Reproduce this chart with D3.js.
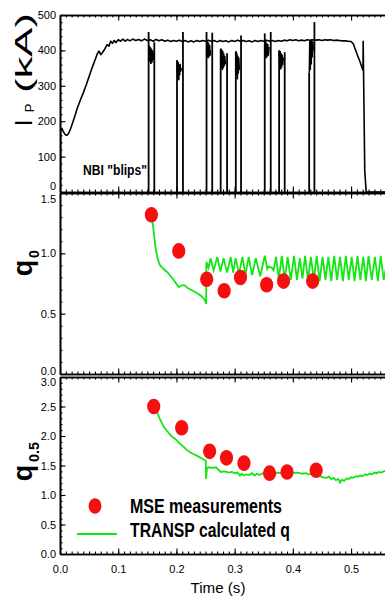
<!DOCTYPE html>
<html><head><meta charset="utf-8">
<script src="https://cdn.jsdelivr.net/npm/d3@7"></script>
<style>body{margin:0;background:#fff}svg{display:block}</style>
</head><body>
<svg id="c" width="385" height="599"></svg>
<script>
// ---------------- DATA ----------------
const timeTicks = [0, 0.1, 0.2, 0.3, 0.4, 0.5];
const timeTickLabels = ["0.0", "0.1", "0.2", "0.3", "0.4", "0.5"];
const ipTicks = [0, 100, 200, 300, 400, 500];
const q0Ticks = [0, 0.5, 1.0, 1.5];
const q05Ticks = [0, 0.5, 1.0, 1.5, 2.0, 2.5, 3.0];

// Plasma current trace (s, kA)
const ipTime = [0.000,0.0008,0.0010,0.003,0.006,0.009,0.012,0.015,0.018,0.021,0.025,0.030,0.035,0.040,0.045,0.050,0.055,0.060,0.064,0.067,0.070,0.073,0.077,0.081,0.084,0.087,0.090,0.093,0.096,0.100,0.104,0.108,0.112,0.116,0.120,0.125,0.130,0.135,0.140,0.145,0.150,0.155,0.160,0.165,0.170,0.175,0.180,0.185,0.190,0.195,0.200,0.205,0.210,0.215,0.220,0.225,0.230,0.235,0.240,0.245,0.250,0.255,0.260,0.265,0.270,0.275,0.280,0.285,0.290,0.295,0.300,0.305,0.310,0.315,0.320,0.325,0.330,0.335,0.340,0.345,0.350,0.355,0.360,0.365,0.370,0.375,0.380,0.385,0.390,0.395,0.400,0.405,0.410,0.415,0.420,0.425,0.430,0.435,0.440,0.445,0.450,0.455,0.460,0.465,0.470,0.475,0.480,0.485,0.490,0.495,0.500,0.504,0.508,0.512,0.516,0.519,0.5205,0.5208,0.5235,0.5260,0.5600];
const ipValue = [0,0,172,180,170,162,160,166,178,192,212,238,260,280,302,326,350,372,390,398,388,394,404,416,412,426,420,428,422,430,426,432,426,431,427,432,428,431,427,432,428,430,426,431,427,430,426,429,425,428,426,429,425,428,424,427,424,428,425,428,426,429,425,428,424,428,425,427,424,428,425,429,426,428,425,427,424,428,425,428,426,429,426,428,425,428,426,429,427,430,428,430,427,429,427,430,428,430,429,430,428,430,429,430,428,429,428,427,427,426,425,418,400,382,365,350,344,426,60,0,0];

// NBI blips: start/end time, top of the two vertical drops, noisy segment between
const blipStart = [0.1522, 0.2010, 0.2517, 0.2760, 0.3020, 0.3517, 0.3764, 0.4280];
const blipEnd   = [0.1620, 0.2112, 0.2615, 0.2870, 0.3110, 0.3620, 0.3860, 0.4370];
const blipTop1  = [452, 372, 452, 405, 395, 448, 400, 338];
const blipTop2  = [423, 452, 450, 392, 442, 452, 395, 480];
const blipNoise = [
  [[0.1526,415],[0.154,368],[0.155,410],[0.156,362],[0.157,405],[0.158,365],[0.159,400],[0.1605,372],[0.1612,392]],
  [[0.2012,372],[0.2022,322],[0.2030,368],[0.2040,316],[0.2048,360],[0.2056,330],[0.2064,362],[0.2072,340],[0.2085,350]],
  [[0.2520,430],[0.2530,380],[0.2538,425],[0.2546,378],[0.2554,420],[0.2562,382],[0.2570,415],[0.2578,385],[0.2586,400]],
  [[0.2763,405],[0.2772,350],[0.2780,402],[0.2788,345],[0.2796,398],[0.2804,350],[0.2812,392],[0.2820,355],[0.2830,385],[0.2840,360]],
  [[0.3023,398],[0.3031,330],[0.3039,392],[0.3047,318],[0.3055,385],[0.3063,335],[0.3071,380],[0.3080,345]],
  [[0.3520,428],[0.3528,380],[0.3536,425],[0.3544,378],[0.3552,420],[0.3560,382],[0.3568,418],[0.3578,385],[0.3590,410]],
  [[0.3767,400],[0.3775,350],[0.3783,398],[0.3791,346],[0.3799,392],[0.3807,352],[0.3815,388],[0.3825,358],[0.3835,380]],
  [[0.4283,338],[0.4291,430],[0.4299,345],[0.4307,428],[0.4315,360],[0.4323,432],[0.4331,380],[0.4340,425],[0.4350,400]]
];

// MSE measurements
const mseTime0 = [0.157, 0.204, 0.252, 0.282, 0.310, 0.355, 0.384, 0.434];
const mseQ0    = [1.32, 1.02, 0.785, 0.69, 0.80, 0.74, 0.77, 0.77];
const mseTime05 = [0.161, 0.209, 0.257, 0.286, 0.316, 0.360, 0.390, 0.440];
const mseQ05    = [2.50, 2.14, 1.74, 1.63, 1.54, 1.37, 1.39, 1.42];

// TRANSP q0
const transpTime0 = [0.157,0.160,0.164,0.168,0.172,0.178,0.185,0.192,0.198,0.204,0.209,0.214,0.220,0.228,0.236,0.243,0.248,0.2510,0.2515,0.2550,0.2586,0.2640,0.2702,0.2755,0.2810,0.2870,0.2931,0.2975,0.3017,0.3075,0.3133,0.3185,0.3241,0.3300,0.3362,0.3440,0.3517,0.3560,0.3585,0.3640,0.3670,0.3710,0.3760,0.3810,0.3860,0.3910,0.3965,0.4020,0.4070,0.4120,0.4165,0.4210,0.4260,0.4310,0.4360,0.4410,0.4460,0.4510,0.4560,0.4610,0.4660,0.4710,0.4760,0.4810,0.4860,0.4910,0.4960,0.5010,0.5060,0.5110,0.5160,0.5210,0.5255,0.5300,0.5355,0.5410,0.5460,0.5510,0.5560,0.5600];
const transpQ0 = [1.32,1.22,1.05,0.95,0.90,0.87,0.84,0.80,0.76,0.72,0.735,0.735,0.71,0.69,0.67,0.645,0.62,0.58,0.93,0.88,0.96,0.86,0.97,0.85,0.96,0.84,0.97,0.84,0.96,0.83,0.97,0.82,0.97,0.82,0.96,0.81,0.98,0.87,0.89,0.88,0.86,0.97,0.79,0.98,0.78,0.97,0.78,0.98,0.78,0.96,0.79,0.98,0.78,0.97,0.78,0.98,0.77,0.97,0.78,0.97,0.77,0.98,0.78,0.97,0.77,0.98,0.78,0.97,0.77,0.98,0.78,0.97,0.77,0.98,0.78,0.97,0.77,0.98,0.78,0.88];

// TRANSP q0.5
const transpTime05 = [0.161,0.166,0.172,0.178,0.186,0.192,0.198,0.205,0.212,0.218,0.224,0.230,0.238,0.244,0.2505,0.2508,0.2525,0.256,0.262,0.268,0.271,0.276,0.283,0.290,0.295,0.300,0.305,0.309,0.312,0.316,0.320,0.325,0.330,0.334,0.338,0.343,0.348,0.352,0.357,0.362,0.368,0.374,0.380,0.386,0.392,0.398,0.404,0.410,0.416,0.422,0.428,0.434,0.440,0.446,0.452,0.458,0.462,0.466,0.470,0.474,0.478,0.481,0.484,0.488,0.492,0.496,0.500,0.504,0.508,0.512,0.516,0.520,0.524,0.528,0.532,0.536,0.540,0.544,0.548,0.552,0.556,0.560];
const transpQ05 = [2.50,2.42,2.28,2.16,2.06,1.99,1.95,1.88,1.82,1.76,1.72,1.69,1.65,1.62,1.58,1.27,1.46,1.47,1.46,1.47,1.44,1.39,1.40,1.38,1.39,1.37,1.38,1.33,1.36,1.33,1.35,1.34,1.37,1.33,1.36,1.34,1.37,1.35,1.36,1.37,1.36,1.38,1.37,1.39,1.38,1.39,1.37,1.38,1.36,1.37,1.35,1.36,1.34,1.32,1.30,1.29,1.31,1.27,1.29,1.25,1.27,1.21,1.26,1.24,1.28,1.27,1.30,1.29,1.32,1.31,1.33,1.32,1.35,1.34,1.36,1.35,1.38,1.37,1.39,1.38,1.40,1.41];

const legendLabels = ["MSE measurements", "TRANSP calculated q"];

// ---------------- DRAW ----------------
const RED = "#f50f0f", GREEN = "#14e614";
const FONT = "'Liberation Sans', Arial, Helvetica, sans-serif";
const svg = d3.select("#c");
const x = d3.scaleLinear().domain([0, 0.56]).range([60, 386]);
const xMinor = d3.range(0, 0.565, 0.01);

const panels = [
  {y: d3.scaleLinear().domain([0, 500]).range([192, 15]), ticks: ipTicks, minor: d3.range(0, 501, 20), fmt: d => String(d), lowShift: -6, highShift: 0},
  {y: d3.scaleLinear().domain([0, 1.5]).range([374, 193]), ticks: q0Ticks, minor: d3.range(0, 1.51, 0.1), fmt: d3.format(".1f"), lowShift: -3, highShift: 6},
  {y: d3.scaleLinear().domain([0, 3]).range([554, 377]), ticks: q05Ticks, minor: d3.range(0, 3.01, 0.1), fmt: d3.format(".1f"), lowShift: 0, highShift: 5}
];

function styleAxis(g, sw) {
  g.selectAll("path.domain").attr("stroke", "#000").attr("stroke-width", sw || 1.6);
  g.selectAll(".tick line").attr("stroke", "#000").attr("stroke-width", 1.1);
  g.selectAll("text").attr("font-family", FONT).attr("font-size", 11).attr("fill", "#000");
  g.attr("font-family", null);
}

panels.forEach((p, i) => {
  const [y0, y1] = p.y.range();
  svg.append("clipPath").attr("id", "clip" + i).append("rect")
    .attr("x", 60).attr("y", y1 - 20).attr("width", 330).attr("height", y0 - y1 + 20);
  svg.append("g").attr("transform", `translate(0,${y1})`)
    .call(d3.axisBottom(x).tickValues(xMinor).tickSize(2.5).tickSizeOuter(0).tickFormat(""))
    .call(g => styleAxis(g));
  svg.append("g").attr("transform", `translate(0,${y1})`)
    .call(d3.axisBottom(x).tickValues(timeTicks).tickSize(5.5).tickSizeOuter(0).tickFormat(""))
    .call(g => styleAxis(g));
  svg.append("g").attr("transform", `translate(0,${y0})`)
    .call(d3.axisTop(x).tickValues(xMinor).tickSize(2.5).tickSizeOuter(0).tickFormat(""))
    .call(g => styleAxis(g));
  svg.append("g").attr("transform", `translate(0,${y0})`)
    .call(d3.axisTop(x).tickValues(timeTicks).tickSize(5.5).tickSizeOuter(0).tickFormat(""))
    .call(g => styleAxis(g));
  svg.append("g").attr("transform", `translate(60,0)`)
    .call(d3.axisRight(p.y).tickValues(p.minor).tickSize(2.5).tickSizeOuter(0).tickFormat(""))
    .call(g => styleAxis(g));
  svg.append("g").attr("transform", `translate(60,0)`)
    .call(d3.axisRight(p.y).tickValues(p.ticks).tickSize(5.5).tickSizeOuter(0).tickFormat(""))
    .call(g => styleAxis(g));
  const lo = p.ticks[0], hi = p.ticks[p.ticks.length - 1];
  svg.append("g").attr("transform", `translate(60,0)`)
    .call(d3.axisLeft(p.y).tickValues(p.ticks).tickSize(0).tickPadding(4).tickFormat(p.fmt))
    .call(g => {
      styleAxis(g); g.select("path.domain").remove();
      g.selectAll(".tick text").attr("y", d => d === lo ? p.lowShift : (d === hi ? p.highShift : 0));
    });
});

svg.append("g").attr("transform", `translate(0,${panels[2].y.range()[0]})`)
  .call(d3.axisBottom(x).tickValues(timeTicks).tickSize(0).tickPadding(11).tickFormat((d, i) => timeTickLabels[i]))
  .call(g => { styleAxis(g); g.select("path.domain").remove(); });

// ---- Panel 1: Ip
const yI = panels[0].y;
const ipLine = d3.line().x(d => x(d[0])).y(d => yI(d[1]));
const g1 = svg.append("g").attr("clip-path", "url(#clip0)");
g1.append("path").datum(ipTime.map((t, k) => [t, ipValue[k]]))
  .attr("d", ipLine).attr("fill", "none").attr("stroke", "#000").attr("stroke-width", 1.6)
  .attr("stroke-linejoin", "round");
blipStart.forEach((t1, k) => {
  const t2 = blipEnd[k];
  g1.append("path").datum([[t1, blipTop1[k]], [t1, 0]]).attr("d", ipLine)
    .attr("stroke", "#000").attr("stroke-width", 1.8).attr("fill", "none");
  g1.append("path").datum([[t2, 0], [t2, blipTop2[k]]]).attr("d", ipLine)
    .attr("stroke", "#000").attr("stroke-width", 1.8).attr("fill", "none");
  g1.append("path").datum(blipNoise[k]).attr("d", ipLine)
    .attr("stroke", "#000").attr("stroke-width", 1.6).attr("fill", "none");
});

// ---- Panel 2: q0
const yQ0 = panels[1].y;
const g2 = svg.append("g").attr("clip-path", "url(#clip1)");
g2.append("path").datum(transpTime0.map((t, k) => [t, transpQ0[k]]))
  .attr("d", d3.line().x(d => x(d[0])).y(d => yQ0(d[1])))
  .attr("fill", "none").attr("stroke", GREEN).attr("stroke-width", 1.8);
g2.selectAll("ellipse").data(mseTime0).join("ellipse")
  .attr("cx", d => x(d)).attr("cy", (d, k) => yQ0(mseQ0[k]))
  .attr("rx", 6.6).attr("ry", 7.8).attr("fill", RED);

// ---- Panel 3: q0.5
const yQ5 = panels[2].y;
const g3 = svg.append("g").attr("clip-path", "url(#clip2)");
g3.append("path").datum(transpTime05.map((t, k) => [t, transpQ05[k]]))
  .attr("d", d3.line().x(d => x(d[0])).y(d => yQ5(d[1])))
  .attr("fill", "none").attr("stroke", GREEN).attr("stroke-width", 1.8);
g3.selectAll("ellipse").data(mseTime05).join("ellipse")
  .attr("cx", d => x(d)).attr("cy", (d, k) => yQ5(mseQ05[k]))
  .attr("rx", 6.6).attr("ry", 7.8).attr("fill", RED);

// ---- Texts
svg.append("text").attr("x", 83).attr("y", 175).text('NBI "blips"')
  .attr("font-family", FONT).attr("font-weight", "bold").attr("font-size", 14)
  .attr("textLength", 64).attr("lengthAdjust", "spacingAndGlyphs");

function rt(txt, bx, cy, size, weight, len) {
  const t = svg.append("text").attr("transform", `translate(${bx},${cy}) rotate(-90)`)
    .attr("text-anchor", "middle").attr("font-family", FONT)
    .attr("font-size", size).attr("font-weight", weight || "normal").text(txt);
  if (len) t.attr("textLength", len).attr("lengthAdjust", "spacingAndGlyphs");
  return t;
}
rt("I", 32, 123, 24);
rt("P", 34, 108, 13);
rt("(kA)", 32, 53, 24, "normal", 80);
rt("q", 32, 268, 27, "bold");
rt("0", 39, 254, 14, "bold");
rt("q", 32, 473, 27, "bold");
rt("0.5", 39, 452, 14, "bold", 20);

// legend
svg.append("ellipse").attr("cx", 95).attr("cy", 506).attr("rx", 6.4).attr("ry", 7.8).attr("fill", RED);
svg.append("line").attr("x1", 77).attr("x2", 117).attr("y1", 534).attr("y2", 534)
  .attr("stroke", GREEN).attr("stroke-width", 1.8);
svg.append("text").attr("x", 130).attr("y", 513).text(legendLabels[0])
  .attr("font-family", FONT).attr("font-weight", "bold").attr("font-size", 20)
  .attr("textLength", 152).attr("lengthAdjust", "spacingAndGlyphs");
svg.append("text").attr("x", 130).attr("y", 537).text(legendLabels[1])
  .attr("font-family", FONT).attr("font-weight", "bold").attr("font-size", 20)
  .attr("textLength", 160).attr("lengthAdjust", "spacingAndGlyphs");

svg.append("text").attr("x", 218).attr("y", 593).attr("text-anchor", "middle").text("Time (s)")
  .attr("font-family", FONT).attr("font-size", 14)
  .attr("textLength", 55).attr("lengthAdjust", "spacingAndGlyphs");
</script>
</body></html>
